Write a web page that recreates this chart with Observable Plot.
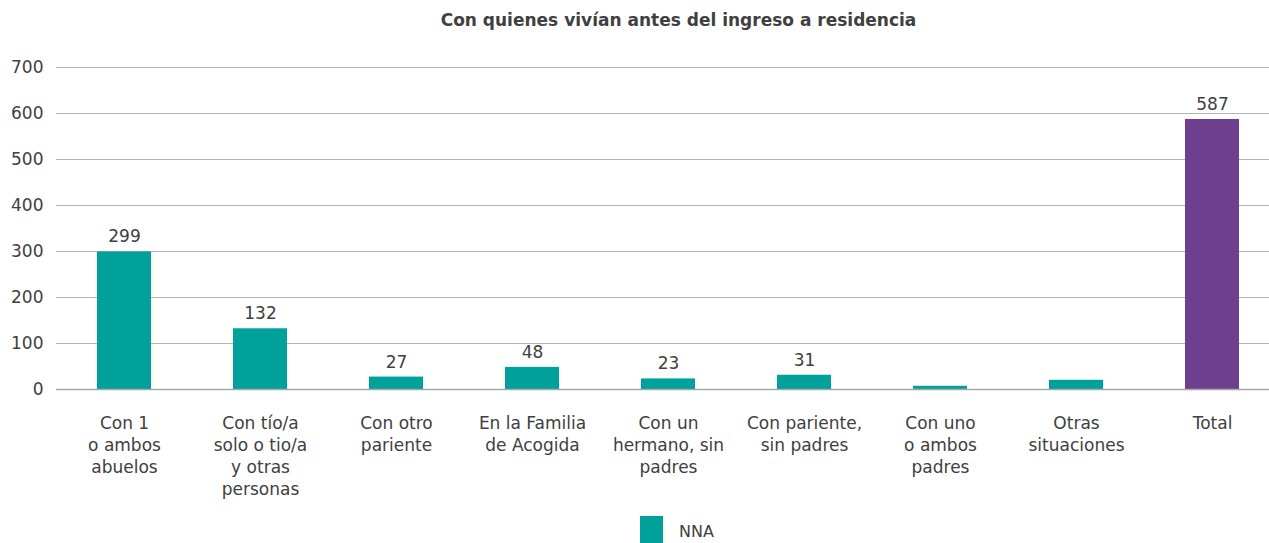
<!DOCTYPE html>
<html>
<head>
<meta charset="utf-8">
<script src="https://cdn.jsdelivr.net/npm/d3@7"></script>
<script src="https://cdn.jsdelivr.net/npm/@observablehq/plot@0.6"></script>
<style>
  body { margin: 0; background: #fff; font-family: "DejaVu Sans", sans-serif; color: #404040; }
  #wrap { width: 1269px; height: 543px; overflow: hidden; position: relative; }
  #title { height: 40px; line-height: 41px; text-align: center; padding-left: 88px; box-sizing: border-box; font-weight: 700; font-size: 17px; color: #404040; }
  #legend { position: absolute; left: 640px; top: 516px; display: flex; align-items: flex-start; font-size: 16px; color: #404040; }
  #legend .sw { width: 23px; height: 30px; background: #00A19A; margin-right: 16px; }
  #legend span { margin-top: 7px; line-height: 18px; }
</style>
</head>
<body>
<div id="wrap">
  <div id="title">Con quienes vivían antes del ingreso a residencia</div>
  <div id="chart"></div>
  <div id="legend"><div class="sw"></div><span>NNA</span></div>
</div>
<script>
const categories = [
  "Con 1\no ambos\nabuelos",
  "Con tío/a\nsolo o tio/a\ny otras\npersonas",
  "Con otro\npariente",
  "En la Familia\nde Acogida",
  "Con un\nhermano, sin\npadres",
  "Con pariente,\nsin padres",
  "Con uno\no ambos\npadres",
  "Otras\nsituaciones",
  "Total"
];
const values = [299, 132, 27, 48, 23, 31, 7, 20, 587];
const showLabel = [true, true, true, true, true, true, false, false, true];
const isTotal = [false, false, false, false, false, false, false, false, true];
const yTicks = [0, 100, 200, 300, 400, 500, 600, 700];

const data = categories.map((c, i) => ({cat: c, value: values[i], show: showLabel[i], total: isTotal[i]}));

const chart = Plot.plot({
  width: 1269,
  height: 470,
  marginTop: 27,
  marginBottom: 121,
  marginLeft: 56,
  marginRight: -11,
  style: {fontFamily: "DejaVu Sans, sans-serif", fontSize: "17px", color: "#404040"},
  x: {domain: categories, paddingInner: 0.6, paddingOuter: 0.3, label: null},
  y: {domain: [0, 700], ticks: yTicks, label: null},
  marks: [
    Plot.gridY(yTicks, {stroke: "#b3b3b3", strokeOpacity: 1, strokeWidth: 1}),
    Plot.barY(data, {x: "cat", y: "value", fill: d => d.total ? "#6F3F8F" : "#00A19A"}),
    Plot.ruleY([0], {stroke: "#a6a6a6", strokeWidth: 1.5}),
    Plot.text(data.filter(d => d.show), {x: "cat", y: "value", text: d => String(d.value), dy: -15, fontSize: 17, fill: "#404040"}),
    Plot.axisY({ticks: yTicks, tickSize: 0, tickPadding: 13, fontSize: 17, fill: "#404040", label: null}),
    Plot.axisX({tickSize: 0, tickPadding: 24, fontSize: 17, fill: "#404040", lineHeight: 1.3, label: null})
  ]
});
document.getElementById("chart").appendChild(chart);
</script>
</body>
</html>
